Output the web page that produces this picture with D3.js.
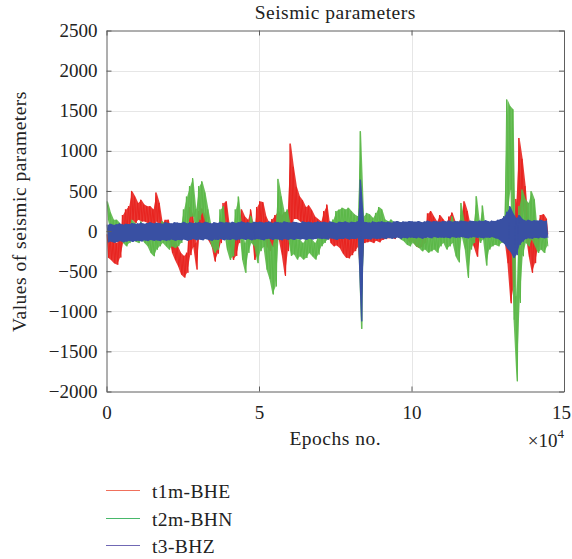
<!DOCTYPE html>
<html>
<head>
<meta charset="utf-8">
<script src="https://cdn.jsdelivr.net/npm/d3@7"></script>
<style>
  body { margin: 0; background: #fff; }
  svg text { font-family: "Liberation Serif", "Times New Roman", serif; fill: #222; }
</style>
</head>
<body>
<div class="chart"></div>
<script>
var binSize = 1000;

var redHi = [
  -40, -80, -120, -150, -60, 200, 270, 310, 500, 430,
  350, 390, 330, 310, 310, 270, 480, 350, 100, 140,
  140, -60, -110, -190, -270, -310, -270, 300, 200, -150,
  250, 280, 200, 60, 0, -100, 0, 60, 350, 370,
  60, -100, -60, 60, 270, 180, 140, 270, 0, 300,
  370, 360, 180, 100, 150, 200, 250, 200, 230, 250,
  1090, 800, 550, 430, 380, 300, 320, 260, 180, 150,
  120, 250, 330, 40, 0, -20, 0, -40, -60, -80,
  -60, -30, 0, 560, 20, 0, 0, -20, 10, 0,
  20, 40, 30, 60, 40, 60, 50, 70, 60, 40,
  20, -20, -40, -30, 0, 220, 250, 180, 120, 200,
  150, 100, 180, 230, 120, 100, 200, 370, 250, 60,
  20, 60, 80, 60, 80, 60, 50, 60, 50, 80,
  150, 100, 0, 100, 400, 1160, 900, 560, 100, 60,
  50, 100, 200, 210, 150
];
var redLo = [
  -330, -360, -400, -420, -330, -150, -20, 60, 140, 100,
  140, 120, 120, 100, 80, 60, 120, 50, -60, -40,
  -60, -270, -360, -440, -540, -580, -520, -300, -200, -480,
  -50, 60, 0, -120, -190, -380, -280, -150, 60, 100,
  -190, -360, -310, -150, -20, -20, -60, 60, -360, -300,
  100, 50, -190, -250, -200, -150, -100, -300, -560, -250,
  0, 150, 150, 120, 100, 60, 40, 40, 10, -20,
  -30, -40, 0, -150, -190, -180, -210, -280, -330, -340,
  -300, -250, -200, -670, -150, -140, -130, -150, -120, -140,
  -110, -100, -90, -80, -100, -70, -90, -60, -100, -150,
  -130, -190, -210, -200, -150, 0, 40, 0, -40, 0,
  -30, -60, -20, 0, -40, -60, 0, 20, -60, -120,
  -200, -320, -80, -60, -50, -70, -80, -60, -80, -60,
  -100, -400, -900, -700, -100, 100, 300, -50, -320, -520,
  -400, -200, -60, -20, -40
];

var greenHi = [
  370, 230, 140, 140, 100, -20, -60, 60, 140, 100,
  60, 120, 19, -23, -106, -106, -65, 60, 123, 60,
  -23, -23, -65, 19, 60, 270, 430, 560, 660, 270,
  560, 620, 480, 270, 60, -60, -23, 270, 310, -23,
  -106, -65, 270, 430, 60, -150, 60, 190, 60, 0,
  60, 100, -60, -100, -190, 20, 650, 430, 230, 270,
  60, 20, -100, -106, -148, -106, -64, -106, -148, -80,
  19, 19, 60, 102, 143, 250, 268, 290, 268, 290,
  247, 206, 185, 1245, 185, 226, 206, 164, 226, 300,
  268, 143, 122, 143, 102, 122, 102, 60, 0, -20,
  0, -20, -40, -65, -65, -85, -65, -20, -65, 20,
  20, 20, 100, 185, 20, -20, 350, 100, -65, 20,
  100, 434, 100, 318, -20, -20, -65, -20, -40, 20,
  185, 1640, 1557, 1515, -813, 310, 517, 393, 350, 497,
  393, -24, 20, -24, 20
];
var greenLo = [
  140, -20, -60, 0, -100, -150, -190, -150, -100, -130,
  -150, -100, -148, -189, -272, -314, -231, -189, -148, -189,
  -231, -189, -210, -189, -148, -60, 60, 180, 180, -60,
  140, 230, 100, -60, -189, -270, -231, -60, 20, -231,
  -360, -314, -60, 60, -355, -520, -272, -148, -189, -400,
  -250, -200, -480, -600, -790, -690, -60, -20, -100, -60,
  -310, -290, -355, -314, -355, -335, -272, -314, -355, -293,
  -189, -148, -106, -64, -23, 20, 39, 60, 39, 60,
  19, -2, -23, -1220, -23, 19, -2, -23, 19, 60,
  39, -64, -85, -44, -85, -64, -106, -127, -170, -190,
  -148, -190, -210, -252, -230, -270, -252, -230, -270, -190,
  -148, -230, -190, -148, -314, -390, -65, -230, -584, -230,
  -148, -20, -148, -106, -430, -230, -190, -170, -190, -148,
  -106, 185, 517, -1104, -1873, -896, -314, -148, -190, -106,
  -190, -272, -230, -272, -190
];

var blueHi = [
  80, 90, 75, 85, 95, 80, 90, 85, 100, 90,
  95, 105, 90, 100, 110, 95, 105, 100, 90, 110,
  100, 95, 110, 105, 100, 115, 95, 110, 100, 105,
  110, 100, 115, 105, 95, 110, 100, 115, 105, 110,
  105, 115, 100, 110, 120, 105, 110, 100, 115, 110,
  115, 105, 110, 120, 100, 115, 110, 105, 120, 110,
  105, 115, 110, 100, 120, 110, 115, 105, 110, 120,
  110, 115, 105, 120, 110, 100, 115, 110, 120, 105,
  115, 110, 120, 640, 115, 110, 105, 120, 110, 115,
  120, 110, 115, 105, 120, 125, 110, 120, 115, 125,
  120, 115, 125, 110, 120, 130, 115, 125, 120, 115,
  125, 120, 130, 115, 125, 120, 130, 125, 115, 130,
  125, 120, 130, 125, 135, 120, 130, 125, 140, 150,
  180, 240, 310, 220, 160, 200, 150, 130, 140, 125,
  135, 130, 140, 125, 130
];
var blueLo = [
  -140, -130, -145, -135, -125, -140, -130, -120, -135, -125,
  -120, -130, -115, -125, -110, -120, -115, -125, -110, -120,
  -115, -105, -120, -110, -115, -105, -120, -110, -100, -115,
  -105, -115, -100, -110, -120, -105, -110, -100, -115, -105,
  -110, -100, -115, -105, -95, -110, -100, -115, -105, -100,
  -105, -115, -100, -95, -110, -100, -105, -115, -100, -110,
  -100, -110, -95, -105, -100, -110, -95, -105, -100, -90,
  -100, -95, -105, -90, -100, -110, -95, -100, -90, -105,
  -95, -100, -90, -1125, -95, -100, -105, -90, -100, -95,
  -90, -100, -85, -95, -90, -80, -95, -85, -90, -80,
  -85, -90, -80, -95, -85, -80, -90, -75, -85, -80,
  -85, -80, -90, -75, -85, -80, -75, -85, -90, -80,
  -75, -85, -80, -90, -80, -85, -75, -90, -100, -130,
  -160, -220, -260, -335, -300, -170, -130, -100, -90, -95,
  -85, -90, -80, -90, -85
];

var seriesNames = ["t1m-BHE", "t2m-BHN", "t3-BHZ"];
var seriesColors = ["#e8231f", "#5bb848", "#3950a3"];
var legendColors = ["#f0705c", "#48b86a", "#7068b4"];
var yTicks = [-2000, -1500, -1000, -500, 0, 500, 1000, 1500, 2000, 2500];
var xTicks = [0, 50000, 100000, 150000];
var xTickLabels = ["0", "5", "10", "15"];

var width = 572, height = 559;
var margin = { top: 30.5, right: 8, bottom: 167.5, left: 106.5 };

var x = d3.scaleLinear().domain([0, 150000]).range([margin.left, width - margin.right]);
var y = d3.scaleLinear().domain([-2000, 2500]).range([height - margin.bottom, margin.top]);

var svg = d3.select(".chart").append("svg")
    .attr("width", width)
    .attr("height", height)
    .style("display", "block");

svg.append("rect").attr("width", width).attr("height", height).attr("fill", "#fff");

// grid
svg.append("g").selectAll("line.hgrid")
    .data(yTicks.slice(1, -1))
    .enter().append("line")
    .attr("x1", x(0)).attr("x2", x(150000))
    .attr("y1", d => Math.round(y(d)) + 0.5).attr("y2", d => Math.round(y(d)) + 0.5)
    .attr("stroke", "#e6e6e6");
svg.append("g").selectAll("line.vgrid")
    .data(xTicks.slice(1, -1))
    .enter().append("line")
    .attr("y1", y(-2000)).attr("y2", y(2500))
    .attr("x1", d => Math.round(x(d)) + 0.5).attr("x2", d => Math.round(x(d)) + 0.5)
    .attr("stroke", "#e6e6e6");

// each bin: a band between min and max, plus a zig-zag stroke through them
function bins(hi, lo) {
  return hi.map((h, i) => ({ e: i * binSize + 450, hi: h, lo: lo[i] }));
}
function zigzag(hi, lo) {
  var pts = [];
  hi.forEach(function (h, i) {
    pts.push([i * binSize + 200, h]);
    pts.push([i * binSize + 700, lo[i]]);
  });
  return pts;
}

var area = d3.area().x(d => x(d.e)).y0(d => y(d.lo)).y1(d => y(d.hi));
var zig = d3.line().x(d => x(d[0])).y(d => y(d[1]));

var his = [redHi, greenHi, blueHi], los = [redLo, greenLo, blueLo];

var plot = svg.append("g").attr("class", "plot");
seriesNames.forEach(function (name, i) {
  plot.append("path")
      .attr("d", area(bins(his[i], los[i])))
      .attr("fill", seriesColors[i])
      .attr("fill-opacity", i == 2 ? 1 : 0.9);
  plot.append("path")
      .attr("d", zig(zigzag(his[i], los[i])))
      .attr("fill", "none")
      .attr("stroke", seriesColors[i])
      .attr("stroke-width", 1);
});

// axes, ticks pointing inward
var axisColor = "#5e5e5e";
var axLeft = svg.append("g")
    .attr("transform", "translate(" + x(0) + ",0)")
    .call(d3.axisLeft(y).tickValues(yTicks).tickSizeInner(-5).tickSizeOuter(0).tickPadding(9)
        .tickFormat(d => d < 0 ? "\u2212" + Math.abs(d) : d));
var axRight = svg.append("g")
    .attr("transform", "translate(" + x(150000) + ",0)")
    .call(d3.axisRight(y).tickValues(yTicks).tickSizeInner(-5).tickSizeOuter(0).tickFormat(""));
var axBottom = svg.append("g")
    .attr("transform", "translate(0," + y(-2000) + ")")
    .call(d3.axisBottom(x).tickValues(xTicks).tickSizeInner(-5).tickSizeOuter(0).tickPadding(14)
        .tickFormat((d, i) => xTickLabels[i]));
var axTop = svg.append("g")
    .attr("transform", "translate(0," + y(2500) + ")")
    .call(d3.axisTop(x).tickValues(xTicks).tickSizeInner(-5).tickSizeOuter(0).tickFormat(""));

[axLeft, axRight, axBottom, axTop].forEach(function (g) {
  g.attr("font-family", "Liberation Serif, serif");
  g.selectAll("path, line").attr("stroke", axisColor);
  g.selectAll("text").attr("font-size", "19px").attr("fill", "#222");
});
axBottom.selectAll(".tick:last-of-type text").attr("dx", -3);

// titles
svg.append("text")
    .attr("x", x(75000)).attr("y", 19)
    .attr("text-anchor", "middle")
    .attr("font-size", "19.5px")
    .attr("letter-spacing", "0.5px")
    .text("Seismic parameters");

svg.append("text")
    .attr("x", x(75000)).attr("y", 445)
    .attr("text-anchor", "middle")
    .attr("font-size", "19.5px")
    .attr("letter-spacing", "0.5px")
    .text("Epochs no.");

var exp = svg.append("text")
    .attr("x", x(150000)).attr("y", 447)
    .attr("text-anchor", "end")
    .attr("font-size", "19px");
exp.append("tspan").text("\u00d710");
exp.append("tspan").attr("dy", -9).attr("font-size", "13px").text("4");

svg.append("text")
    .attr("transform", "translate(26,211.5) rotate(-90)")
    .attr("text-anchor", "middle")
    .attr("font-size", "19.5px")
    .attr("letter-spacing", "0.5px")
    .text("Values of seismic parameters");

// legend: a short sample line and the name of each series
var legendItems = svg.append("g").attr("class", "legend");
seriesNames.forEach(function (name, i) {
  var ly = Math.round(490 + i * 27.5);
  legendItems.append("rect")
      .attr("x", 106).attr("y", ly)
      .attr("width", 34).attr("height", 1)
      .attr("shape-rendering", "crispEdges")
      .attr("fill", legendColors[i]);
  legendItems.append("text")
      .attr("x", 152).attr("y", ly + 7.5)
      .attr("font-size", "19.5px")
      .attr("letter-spacing", "0.4px")
      .text(name);
});
</script>
</body>
</html>
